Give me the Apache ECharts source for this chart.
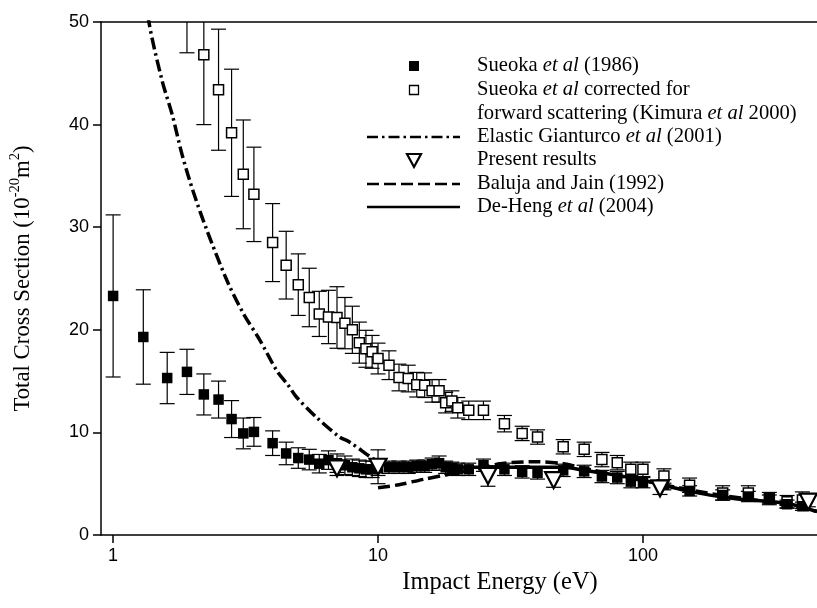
<!DOCTYPE html>
<html><head><meta charset="utf-8">
<script src="https://cdn.jsdelivr.net/npm/echarts@6/dist/echarts.min.js"></script>
<style>html,body{margin:0;padding:0;background:#fff}#c{width:817px;height:608px}</style>
</head><body><div id="c"></div>
<script>
// ---------- data ----------
const xTickValues = [1, 10, 100];
const yTickValues = [0, 10, 20, 30, 40, 50];

// Sueoka et al (1986) – filled squares
const sueokaE   = [1.0,1.3,1.6,1.9,2.2,2.5,2.8,3.1,3.4,4.0,4.5,5.0,5.5,6.0,6.5,7.0,7.5,8.0,8.5,9.0,9.5,10,11,12,13,14,15,16,17,18,19,20,22,25,30,35,40,50,60,70,80,90,100,120,150,200,250,300,350,400];
const sueokaV   = [23.3,19.3,15.3,15.9,13.7,13.2,11.3,9.9,10.05,8.95,7.95,7.5,7.35,6.95,7.3,7.0,6.8,6.6,6.5,6.4,6.4,6.5,6.6,6.6,6.6,6.7,6.7,6.9,7.0,6.6,6.5,6.4,6.4,6.8,6.4,6.15,6.05,6.3,6.2,5.7,5.6,5.2,5.1,4.9,4.3,3.9,3.75,3.5,3.0,2.8];
const sueokaErr = [7.9,4.6,2.5,2.2,2.0,1.8,1.8,1.5,1.4,1.2,1.1,1.0,1.0,0.9,0.9,0.9,0.9,0.8,0.8,0.8,0.8,0.7,0.6,0.6,0.6,0.6,0.6,0.6,0.7,0.6,0.6,0.6,0.6,0.6,0.6,0.6,0.6,0.6,0.6,0.6,0.6,0.6,0.5,0.5,0.5,0.5,0.5,0.4,0.4,0.4];

// Sueoka et al corrected for forward scattering (Kimura et al 2000) – open squares
const corrE   = [1.9,2.2,2.5,2.8,3.1,3.4,4.0,4.5,5.0,5.5,6.0,6.5,7.0,7.5,8.0,8.5,9.0,9.5,10,11,12,13,14,15,16,17,18,19,20,22,25,30,35,40,50,60,70,80,90,100,120,150,200,250,300,350,400];
const corrV   = [54,46.8,43.4,39.2,35.15,33.2,28.5,26.3,24.4,23.15,21.55,21.25,21.2,20.65,20.0,18.75,18.15,17.85,17.2,16.55,15.35,15.25,14.65,14.6,14.05,14.05,12.9,13.05,12.4,12.15,12.15,10.85,9.9,9.55,8.6,8.35,7.35,7.05,6.4,6.4,5.75,4.85,4.1,4.1,3.55,3.25,3.4];
const corrErr = [7.0,6.8,5.9,6.2,5.3,4.6,3.8,3.3,3.0,2.85,2.2,2.6,3.0,2.5,2.3,2.0,1.8,1.6,1.5,1.4,1.3,1.3,1.2,1.2,1.1,1.1,1.0,1.0,1.0,0.9,0.9,0.8,0.7,0.7,0.7,0.7,0.7,0.7,0.7,0.7,0.7,0.7,0.7,0.7,0.6,0.6,0.8];

// Elastic Gianturco et al (2001)
const giantE = [1.3,1.365,1.53,1.67,1.82,2.01,2.26,2.69,3.1,3.58,4.14,4.58,4.92,5.84,7.15,7.8,9.54,10];
const giantV = [55,50,44.3,41.0,37.1,33.4,29.7,24.8,21.6,19.0,16.05,14.6,13.45,11.5,9.56,9.07,7.46,7.2];

// Present results
const presentE   = [7,10,26,46,116,421];
const presentV   = [6.5,6.65,5.75,5.35,4.55,3.25];
const presentErr = [0.7,1.65,1.0,0.7,0.6,0.5];

// Baluja and Jain (1992)
const balujaE = [10,12,15,18,20,25,30,40,50,60,80,100,150,200,300,454];
const balujaV = [4.6,4.9,5.45,5.85,6.1,6.6,7.0,7.15,6.95,6.5,5.8,5.3,4.4,3.85,3.2,2.3];

// De-Heng et al (2004)
const dehengE = [20,30,50,60,80,100,150,220,350,454];
const dehengV = [6.6,6.6,6.6,6.3,5.8,5.35,4.25,3.55,3.08,2.27];

// ---------- helpers ----------
const zip = (a, b) => a.map((v, i) => [v, b[i]]);
const errData = (e, v, er) => e.map((x, i) => [x, v[i] - er[i], v[i] + er[i]]);
function errRender(params, api) {
  const x = api.value(0), lo = api.value(1), hi = api.value(2);
  const p1 = api.coord([x, hi]), p2 = api.coord([x, lo]);
  const w = 7.5;
  const st = {stroke: '#000', lineWidth: 1.2, fill: null};
  return {type: 'group', children: [
    {type: 'line', shape: {x1: p1[0], y1: p1[1], x2: p2[0], y2: p2[1]}, style: st},
    {type: 'line', shape: {x1: p1[0]-w, y1: p1[1], x2: p1[0]+w, y2: p1[1]}, style: st},
    {type: 'line', shape: {x1: p2[0]-w, y1: p2[1], x2: p2[0]+w, y2: p2[1]}, style: st}
  ]};
}
const SERIF = 'Liberation Serif';
const SANS = 'Liberation Sans';
const legFont = {fontFamily: SERIF, fontSize: 20.6, fill: '#000'};
const legRich = {n: Object.assign({}, legFont), i: Object.assign({fontStyle: 'italic'}, legFont)};
function legText(x, y, t) {
  return {type: 'text', x: x, y: y, style: Object.assign({text: t, rich: legRich, verticalAlign: 'middle', align: 'left'}, legFont)};
}

const chart = echarts.init(document.getElementById('c'), null, {renderer: 'canvas'});
const LX0 = 367, LX1 = 460, LC = 414, TX = 477;
chart.setOption({
  animation: false,
  backgroundColor: '#fff',
  grid: {left: 97, right: 0, top: 22, bottom: 73, containLabel: false},
  xAxis: [{
    type: 'log', logBase: 10, min: 0.9, max: 454, position: 'bottom',
    axisLine: {show: true, onZero: false, lineStyle: {color: '#000', width: 1.5}},
    axisTick: {show: true, customValues: xTickValues, length: 8, lineStyle: {color: '#000', width: 1.5}},
    minorTick: {show: false},
    splitLine: {show: false},
    axisLabel: {customValues: xTickValues, formatter: v => String(Math.round(v)), fontFamily: SANS, fontSize: 18, color: '#000', margin: 12},
    name: 'Impact Energy (eV)', nameLocation: 'middle', nameGap: 31,
    nameTextStyle: {fontFamily: SERIF, fontSize: 24.5, color: '#000', padding: [0, 0, 0, 82]}
  }, {
    type: 'log', logBase: 10, min: 0.9, max: 454, position: 'top',
    axisLine: {show: true, onZero: false, lineStyle: {color: '#000', width: 1.5}},
    axisTick: {show: false}, axisLabel: {show: false}, splitLine: {show: false}
  }],
  yAxis: {
    type: 'value', min: 0, max: 50, interval: 10,
    axisLine: {show: true, onZero: false, lineStyle: {color: '#000', width: 1.5}},
    axisTick: {show: true, customValues: yTickValues, length: 8, lineStyle: {color: '#000', width: 1.5}},
    splitLine: {show: false},
    axisLabel: {customValues: yTickValues, fontFamily: SANS, fontSize: 18, color: '#000', margin: 12},
    name: '{a|Total Cross Section (10}{s|-20}{a|m}{s|2}{a|)}',
    nameLocation: 'middle', nameGap: 63, nameRotate: 90,
    nameTextStyle: {rich: {
      a: {fontFamily: SERIF, fontSize: 22.8, color: '#000', lineHeight: 30},
      s: {fontFamily: SERIF, fontSize: 14.5, color: '#000', verticalAlign: 'top', lineHeight: 14}
    }}
  },
  series: [
    {type: 'custom', name: 'corrErr', renderItem: errRender, data: errData(corrE, corrV, corrErr), encode: {x: 0, y: [1, 2]}, clip: true, z: 2},
    {type: 'custom', name: 'sueokaErr', renderItem: errRender, data: errData(sueokaE, sueokaV, sueokaErr), encode: {x: 0, y: [1, 2]}, clip: true, z: 2},
    {type: 'custom', name: 'presentErr', renderItem: errRender, data: errData(presentE, presentV, presentErr), encode: {x: 0, y: [1, 2]}, clip: true, z: 2},
    {type: 'line', name: 'Elastic Gianturco et al (2001)', data: zip(giantE, giantV), showSymbol: false, smooth: 0.3, clip: true,
     lineStyle: {color: '#000', width: 3.5, type: [12, 4, 2.5, 4], cap: 'butt'}, z: 3},
    {type: 'line', name: 'Baluja and Jain (1992)', data: zip(balujaE, balujaV), showSymbol: false, smooth: 0.3, clip: true,
     lineStyle: {color: '#000', width: 3.5, type: [12, 5], cap: 'butt'}, z: 3},
    {type: 'line', name: 'De-Heng et al (2004)', data: zip(dehengE, dehengV), showSymbol: false, smooth: 0.3, clip: true,
     lineStyle: {color: '#000', width: 3.5}, z: 3},
    {type: 'scatter', name: 'Sueoka corrected', data: zip(corrE, corrV), symbol: 'rect', symbolSize: 10, clip: true,
     itemStyle: {color: '#fff', borderColor: '#000', borderWidth: 1.5, opacity: 1}, z: 4},
    {type: 'scatter', name: 'Sueoka', data: zip(sueokaE, sueokaV), symbol: 'rect', symbolSize: 10.5, clip: true,
     itemStyle: {color: '#000', opacity: 1}, z: 4},
    {type: 'scatter', name: 'Present results', data: zip(presentE, presentV), symbol: 'triangle', symbolRotate: 180, symbolSize: [17, 16], clip: true,
     itemStyle: {color: '#fff', borderColor: '#000', borderWidth: 2.2, opacity: 1}, z: 5}
  ],
  graphic: [
    {type: 'rect', shape: {x: LC-5, y: 61, width: 10, height: 10}, style: {fill: '#000'}},
    legText(TX, 66, '{n|Sueoka }{i|et al}{n| (1986)}'),
    {type: 'rect', shape: {x: LC-4.5, y: 85.5, width: 9, height: 9}, style: {fill: '#fff', stroke: '#000', lineWidth: 1.3}},
    legText(TX, 90, '{n|Sueoka }{i|et al}{n| corrected for}'),
    legText(TX, 114, '{n|forward scattering (Kimura }{i|et al}{n| 2000)}'),
    {type: 'line', shape: {x1: LX0, y1: 137, x2: LX1, y2: 137}, style: {stroke: '#000', lineWidth: 2.6, lineDash: [11, 4, 2.5, 4]}},
    legText(TX, 137, '{n|Elastic Gianturco }{i|et al}{n| (2001)}'),
    {type: 'polygon', shape: {points: [[LC-7, 154], [LC+7, 154], [LC, 167]]}, style: {fill: '#fff', stroke: '#000', lineWidth: 2.2}},
    legText(TX, 160, '{n|Present results}'),
    {type: 'line', shape: {x1: LX0, y1: 184, x2: LX1, y2: 184}, style: {stroke: '#000', lineWidth: 2.6, lineDash: [12, 5]}},
    legText(TX, 184, '{n|Baluja and Jain (1992)}'),
    {type: 'line', shape: {x1: LX0, y1: 207, x2: LX1, y2: 207}, style: {stroke: '#000', lineWidth: 2.6}},
    legText(TX, 207, '{n|De-Heng }{i|et al}{n| (2004)}')
  ]
});
</script>
</body></html>
